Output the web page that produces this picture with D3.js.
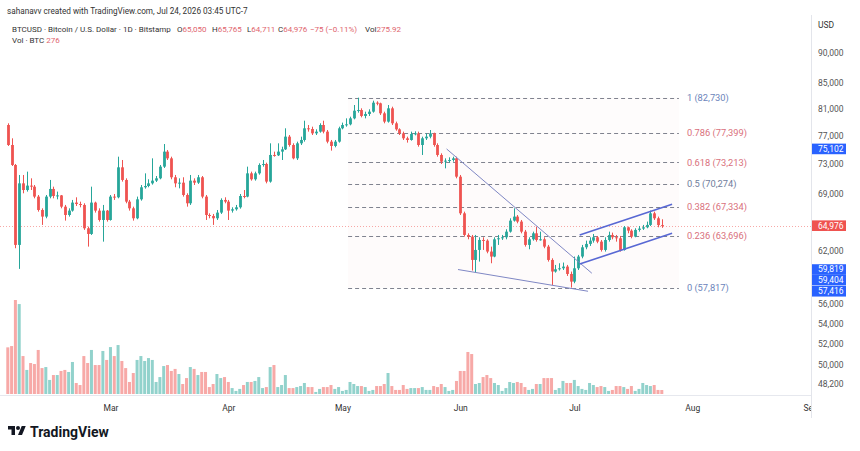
<!DOCTYPE html>
<html>
<head>
<meta charset="utf-8">
<script src="https://cdn.jsdelivr.net/npm/d3@7"></script>
<style>
  body { margin: 0; background: #fff; }
  svg { display: block; font-family: Roboto, "Noto Sans", sans-serif; }
</style>
</head>
<body>
<svg id="chart" width="860" height="451"></svg>
<script>
// daily candles, Bitstamp BTCUSD, from 2026-02-02 to 2026-07-24 (open = previous close)
const firstDay = '2026-02-02';
const firstOpen = 78570;
const closes = [
  75660,72860,62660,70380,69500,70080,69940,68640,66930,66100,
  68640,69640,68720,68800,67350,66300,66850,67870,67690,67570,
  64660,63970,67870,66850,65680,66850,65680,68640,68550,72540,
  70830,67990,67140,65890,68290,69860,70030,70380,70740,71050,
  72630,74720,73780,71190,70380,70470,68850,67780,70740,70470,
  71190,68640,66300,66180,65890,66600,68210,67990,66850,67020,
  67270,68720,68640,71720,70920,71720,72860,73000,70610,74250,
  74200,74720,75040,76860,75660,73780,75900,76380,78080,77980,
  77340,77590,78570,77590,76140,75520,76140,78080,78570,78670,
  79560,80720,80820,79920,80220,80570,81950,81850,80320,79070,
  81080,78820,77930,77340,76620,76380,77250,77340,75660,76620,
  76860,77340,75660,74250,73320,73460,73550,73780,71270,66510,
  63850,63650,60910,62070,63250,63170,61880,61300,63330,63450,
  63570,64250,65600,66100,65480,64250,62660,63330,64050,63250,
  63330,62460,60910,59590,59850,59960,60150,59320,58470,59960,
  61300,62380,62780,63170,63570,63050,62070,63250,63850,63570,
  63450,62070,64780,64370,63650,64460,64620,64780,65070,66510,
  65890,65051,64976
];
const highs = [
  78820,76620,73000,71500,71500,71950,71050,70160,68850,67140,
  68850,70830,69940,69290,68850,67570,67140,68210,68550,67990,
  67780,64860,69940,67990,67140,67570,66930,68850,68980,74010,
  73550,71050,68210,67350,68640,70160,71720,70920,73780,71360,
  72860,75800,74950,74010,71500,71050,71190,69070,71500,71050,
  71500,71360,68850,66510,66430,66930,68420,68550,68210,67270,
  67570,68980,69500,72630,71950,71950,73090,73550,73180,75900,
  74720,75900,75420,78080,77100,75900,76140,76860,79210,78570,
  78320,77930,78820,79210,77830,76380,76380,78320,78920,79560,
  79810,81590,82730,81080,80570,80930,82260,82160,81950,80570,
  81590,81330,79070,78080,77590,76860,77590,77640,77590,76860,
  77340,77830,77440,75900,74480,73780,73920,74010,74010,71500,
  66720,64050,63850,63850,63570,63570,63330,62460,63570,63850,
  63850,64540,65890,67140,66300,65680,64460,63570,64250,64860,
  64250,63570,62660,61100,60340,60530,60610,60340,59590,61300,
  61490,62660,63170,63570,63970,63730,63250,63570,64250,64130,
  63850,63730,64940,64860,64540,64660,64940,65070,65480,66850,
  66720,66100,65765
];
const lows = [
  75520,72720,62270,59890,69070,69290,69500,68420,66720,65070,
  65890,68420,68420,68290,67140,65600,66100,66720,67440,67270,
  64460,62460,63850,66600,65480,63050,65480,65600,68210,68420,
  70610,67780,66850,65600,65770,68120,69680,69860,70210,70560,
  70920,72450,73550,70920,69860,69720,68640,67350,67570,70160,
  70300,68420,65680,65890,65070,65680,66430,67780,65680,66600,
  66850,67100,68420,68550,70740,70740,71540,72630,70380,70470,
  74010,74110,73550,74950,75420,73640,73550,75660,76140,77590,
  77100,77100,77440,77340,75900,74860,75330,76000,77930,78320,
  78520,79410,80420,79710,79560,79920,80420,81540,80070,78820,
  78920,78570,77730,77100,76380,76000,76280,77050,75420,74250,
  76380,76620,75420,74010,73000,72400,73180,73320,71050,66300,
  63650,63330,59700,59500,60720,62070,61680,60530,61220,62660,
  63250,63330,64130,65480,65270,64050,62460,62150,63170,63050,
  63170,62270,60720,58100,59470,59700,59770,59100,57817,58290,
  59770,61100,62150,62540,62930,62860,61880,61880,63050,63330,
  63050,61880,61990,64050,63450,63570,64250,64460,64660,64940,
  65680,64780,64711
];
// volume in BTC
const volumes = [
  3220,3310,6490,6210,2620,1660,2140,2070,3040,1790,
  1860,970,1310,1310,1590,1660,1520,2210,760,620,
  2620,2140,3040,2000,2000,2970,2350,3240,2620,3380,
  2280,1790,830,1450,2350,2620,2280,2480,2350,830,
  1170,1930,2000,1590,1730,1380,690,1100,1860,1730,
  1310,1520,1520,480,690,1380,1100,1170,830,410,
  210,350,620,830,830,900,1170,410,480,1860,
  2000,480,620,1310,410,410,480,550,760,480,
  480,140,350,480,480,620,350,480,210,280,
  830,690,550,550,480,210,280,550,550,690,
  1450,550,280,280,620,350,410,410,410,480,
  280,280,550,480,690,480,210,280,900,1590,
  1590,2900,2760,690,760,1170,1310,1100,760,620,
  210,410,830,760,830,760,480,280,350,690,
  690,1100,1100,1100,280,410,900,760,760,970,
  550,350,280,760,620,480,550,480,210,280,
  550,550,480,350,550,210,350,760,620,550,
  620,280,276
];

const fibRatios = ['1', '0.786', '0.618', '0.5', '0.382', '0.236', '0'];
const fibPrices = [82730, 77399, 73213, 70274, 67334, 63696, 57817];
const fibStartDay = 89.5;
const fibEndDay = 176.5;

// drawings: [dayIndex, price] endpoints
const wedgeLines = [
  [[115.4, 75102], [153.6, 59404]],
  [[118.4, 59819], [152.6, 57416]]
];
const channelLines = [
  [[150.4, 63850], [174.7, 67650]],
  [[150.4, 60440], [174.7, 64050]]
];

const priceTicks = [90000, 85000, 81000, 77000, 73000, 69000, 62000, 56000, 54000, 52000, 50000, 48200];
const drawingPriceTags = [75102, 59819, 59404, 57416];
const lastPrice = 64976;
const monthTicks = ['2026-03-01', '2026-04-01', '2026-05-01', '2026-06-01', '2026-07-01', '2026-08-01', '2026-09-01'];

const upColor = '#26a69a', downColor = '#ef5350';
const labelRed = '#d9707c', labelBlue = '#6c84bb';
const fibColors = [labelBlue, labelRed, labelRed, '#6f7d9c', labelRed, labelRed, labelBlue];

const svg = d3.select('#chart');
const plotRight = 811;

const start = new Date(firstDay + 'T00:00:00Z');
const x = d3.scaleUtc()
  .domain([start, d3.utcDay.offset(start, closes.length - 1)])
  .range([7.8, 661.8]);
const dayX = i => x(new Date(start.getTime() + i * 864e5));
const y = d3.scaleLog().domain([48200, 90000]).range([384, 53]);
const vy = d3.scaleLinear().domain([0, d3.max(volumes)]).range([394, 300]);

const candles = closes.map((c, i) => ({
  i,
  open: i ? closes[i - 1] : firstOpen,
  high: highs[i],
  low: lows[i],
  close: c,
  vol: volumes[i]
}));
candles.forEach(d => d.up = d.close >= d.open);

// volume
svg.append('g').selectAll('rect').data(candles).enter()
  .append('rect')
    .attr('x', d => dayX(d.i) - 1.5)
    .attr('width', 3)
    .attr('y', d => vy(d.vol))
    .attr('height', d => vy(0) - vy(d.vol))
    .attr('fill', d => d.up ? upColor : downColor)
    .attr('fill-opacity', 0.5);

// fib bands + levels
const fx0 = dayX(fibStartDay), fx1 = dayX(fibEndDay);
const fib = svg.append('g');
fib.selectAll('rect').data(fibPrices.slice(1)).enter()
  .append('rect')
    .attr('x', fx0)
    .attr('width', fx1 - fx0)
    .attr('y', (d, i) => y(fibPrices[i]))
    .attr('height', (d, i) => y(d) - y(fibPrices[i]))
    .attr('fill', (d, i) => i < 2 ? labelRed : '#f08a96')
    .attr('fill-opacity', (d, i) => i < 2 ? 0.025 : 0.035);
fib.selectAll('line').data(fibPrices).enter()
  .append('line')
    .attr('x1', fx0).attr('x2', fx1)
    .attr('y1', d => Math.round(y(d)) + 0.5)
    .attr('y2', d => Math.round(y(d)) + 0.5)
    .attr('stroke', '#80838f')
    .attr('stroke-dasharray', '4,3');
fib.selectAll('text').data(fibPrices).enter()
  .append('text')
    .attr('x', fx1 + 8)
    .attr('y', d => y(d))
    .attr('dy', '0.35em')
    .attr('font-size', 9.3)
    .attr('fill', (d, i) => fibColors[i])
    .text((d, i) => `${fibRatios[i]} (${d3.format(',')(d)})`);

// last price dotted line
svg.append('line')
  .attr('x1', 0).attr('x2', plotRight)
  .attr('y1', Math.round(y(lastPrice)) + 0.5).attr('y2', Math.round(y(lastPrice)) + 0.5)
  .attr('stroke', downColor)
  .attr('stroke-opacity', 0.5)
  .attr('stroke-dasharray', '1,2');

// candles
const cg = svg.append('g').selectAll('g').data(candles).enter().append('g');
cg.append('line')
  .attr('x1', d => Math.round(dayX(d.i)) + 0.5)
  .attr('x2', d => Math.round(dayX(d.i)) + 0.5)
  .attr('y1', d => y(d.high))
  .attr('y2', d => y(d.low))
  .attr('stroke', d => d.up ? upColor : downColor);
cg.append('rect')
  .attr('x', d => Math.round(dayX(d.i)) - 0.9)
  .attr('width', 2.8)
  .attr('y', d => y(Math.max(d.open, d.close)))
  .attr('height', d => Math.max(1, Math.abs(y(d.open) - y(d.close))))
  .attr('fill', d => d.up ? upColor : downColor);

// trend drawings
const linePath = d3.line().x(p => dayX(p[0])).y(p => y(p[1]));
svg.append('g').selectAll('path').data(wedgeLines).enter()
  .append('path')
    .attr('d', linePath)
    .attr('stroke', '#7f87c4')
    .attr('stroke-width', 1)
    .attr('fill', 'none');
svg.append('g').selectAll('path').data(channelLines).enter()
  .append('path')
    .attr('d', linePath)
    .attr('stroke', '#5868d4')
    .attr('stroke-width', 1.6)
    .attr('fill', 'none');

// time axis
const xAxis = d3.axisBottom(x)
  .tickValues(monthTicks.map(d => new Date(d + 'T00:00:00Z')))
  .tickFormat(d3.utcFormat('%b'))
  .tickSize(0)
  .tickPadding(9);
const gx = svg.append('g').attr('transform', 'translate(0,396)').call(xAxis);
gx.select('.domain').remove();
gx.selectAll('text').attr('font-size', 8.5).attr('fill', '#333').attr('font-family', 'Roboto, sans-serif');
svg.append('line')
  .attr('x1', 0).attr('x2', plotRight)
  .attr('y1', 395.5).attr('y2', 395.5)
  .attr('stroke', '#e6e8ee');

// price axis panel
svg.append('rect')
  .attr('x', plotRight).attr('y', 0)
  .attr('width', 860 - plotRight).attr('height', 451)
  .attr('fill', '#fff');
svg.append('line')
  .attr('x1', plotRight + 0.5).attr('x2', plotRight + 0.5)
  .attr('y1', 15).attr('y2', 418)
  .attr('stroke', '#e3e5eb');
svg.append('text')
  .attr('x', 818).attr('y', 28)
  .attr('font-size', 8.5).attr('fill', '#333')
  .text('USD');
svg.append('g').selectAll('text').data(priceTicks).enter()
  .append('text')
    .attr('x', 818)
    .attr('y', d => y(d))
    .attr('dy', '0.35em')
    .attr('font-size', 8.5)
    .attr('fill', '#555')
    .text(d => d3.format(',')(d));

// price tags (spread so they don't overlap)
const tagH = 10.6;
const tags = drawingPriceTags.map(p => ({ price: p, color: '#2962ff', ty: y(p) }))
  .concat([{ price: lastPrice, color: '#ef5350', ty: y(lastPrice) }])
  .sort((a, b) => a.ty - b.ty);
tags.forEach((t, i) => {
  if (i && t.ty - tags[i - 1].ty < tagH) t.ty = tags[i - 1].ty + tagH;
});
const tg = svg.append('g').selectAll('g').data(tags).enter().append('g');
tg.append('rect')
  .attr('x', plotRight + 1)
  .attr('y', d => d.ty - tagH / 2)
  .attr('width', 34)
  .attr('height', tagH)
  .attr('fill', d => d.color);
tg.append('text')
  .attr('x', 818)
  .attr('y', d => d.ty)
  .attr('dy', '0.35em')
  .attr('font-size', 8.5)
  .attr('fill', '#fff')
  .text(d => d3.format(',')(d.price));

// header
const red = '#e0646e', ink = '#333';
svg.append('text')
  .attr('x', 7).attr('y', 14)
  .attr('font-size', 8.2).attr('fill', ink)
  .text('sahanavv created with TradingView.com, Jul 24, 2026 03:45 UTC-7');
const h2 = svg.append('text').attr('y', 32).attr('font-size', 8).attr('fill', ink);
h2.append('tspan').attr('x', 12).text('BTCUSD · Bitcoin / U.S. Dollar · 1D · Bitstamp');
[['O', '65,050', 177], ['H', '65,765', 212], ['L', '64,711', 247], ['C', '64,976', 278]].forEach(([k, v, px]) => {
  h2.append('tspan').attr('x', px).text(k);
  h2.append('tspan').attr('fill', red).text(v);
});
h2.append('tspan').attr('x', 310).attr('fill', red).text('−75 (−0.11%)');
h2.append('tspan').attr('x', 365).text('Vol');
h2.append('tspan').attr('fill', red).text('275.92');
const h3 = svg.append('text').attr('x', 12).attr('y', 43).attr('font-size', 8).attr('fill', ink);
h3.append('tspan').text('Vol · BTC ');
h3.append('tspan').attr('fill', red).text(' 276');

// TradingView logo
const logo = svg.append('g').attr('transform', 'translate(8,424) scale(0.5)').attr('fill', '#131722');
logo.append('path').attr('d', 'M14 22H7V11H0V4h14v18z');
logo.append('path').attr('d', 'M28 22h-8l7.5-18h8L28 22z');
logo.append('circle').attr('cx', 20).attr('cy', 8).attr('r', 4);
svg.append('text')
  .attr('x', 30).attr('y', 437)
  .attr('font-size', 14).attr('font-weight', 700)
  .attr('fill', '#131722')
  .text('TradingView');
</script>
</body>
</html>
